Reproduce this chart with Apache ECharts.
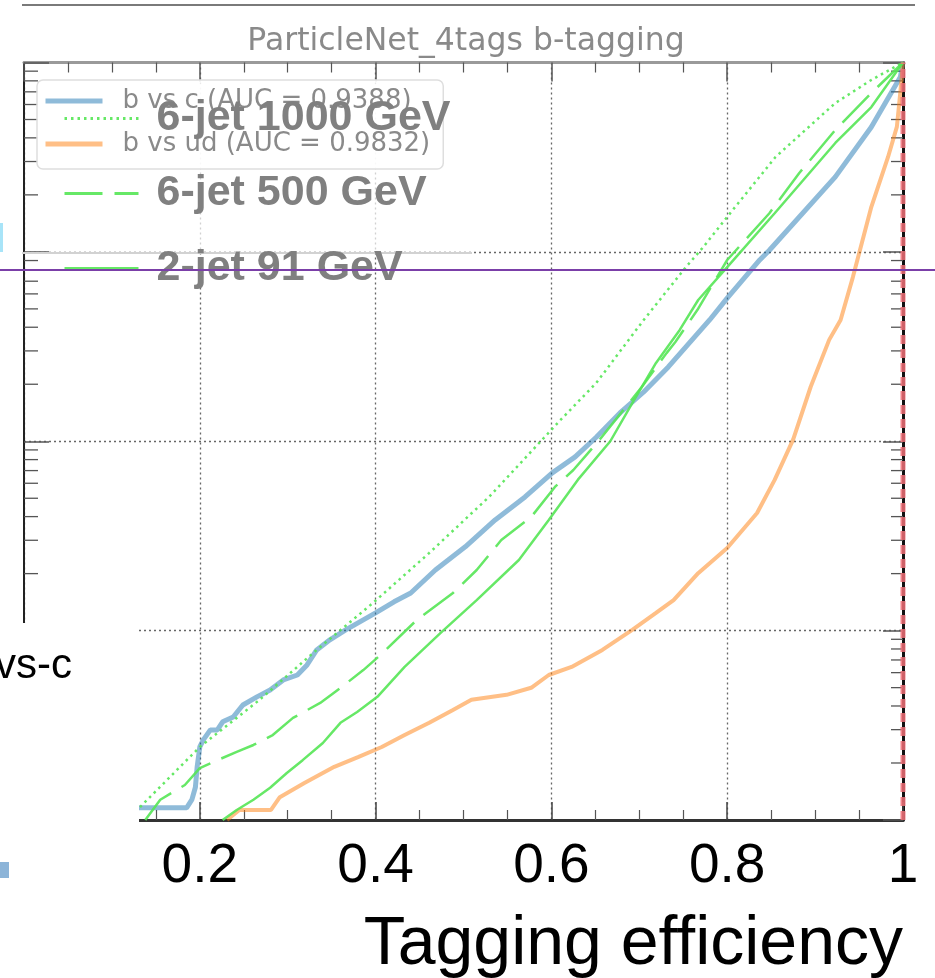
<!DOCTYPE html>
<html>
<head>
<meta charset="utf-8">
<script src="https://cdn.jsdelivr.net/npm/echarts@6/dist/echarts.min.js"></script>
<style>
html,body{margin:0;padding:0;background:#fff;}
#chart{width:935px;height:978px;}
</style>
</head>
<body>
<div id="chart"></div>
<script>
// ---- data ----
const xTickLabels = ['0.2', '0.4', '0.6', '0.8', '1'];

const bcEff = [0.08,0.132,0.185,0.191,0.195,0.197,0.200,0.204,0.212,0.220,0.226,0.238,0.249,0.265,0.280,0.295,0.311,0.322,0.333,0.348,0.366,0.400,0.421,0.440,0.468,0.502,0.536,0.570,0.601,0.627,0.651,0.678,0.705,0.733,0.760,0.780,0.800,0.837,0.848,0.923,0.964,0.997,1.0];
const bcMis = [1.16e-4,1.16e-4,1.16e-4,1.28e-4,1.49e-4,1.91e-4,2.43e-4,2.65e-4,2.99e-4,2.99e-4,3.30e-4,3.50e-4,4.05e-4,4.47e-4,4.86e-4,5.49e-4,5.83e-4,6.59e-4,7.91e-4,8.94e-4,1.01e-3,1.24e-3,1.42e-3,1.58e-3,2.09e-3,2.77e-3,3.84e-3,5.08e-3,6.81e-3,8.27e-3,1.05e-2,1.41e-2,1.82e-2,2.47e-2,3.43e-2,4.37e-2,5.7e-2,9.06e-2,0.102,0.249,0.456,0.838,1.0];

const budEff = [0.231,0.245,0.281,0.291,0.319,0.353,0.380,0.407,0.433,0.461,0.488,0.509,0.549,0.577,0.597,0.623,0.658,0.692,0.719,0.739,0.767,0.800,0.834,0.854,0.875,0.895,0.916,0.929,0.943,0.964,0.983,0.993,0.997,1.0];
const budMis = [1.0e-4,1.13e-4,1.13e-4,1.32e-4,1.57e-4,1.91e-4,2.15e-4,2.43e-4,2.81e-4,3.26e-4,3.81e-4,4.31e-4,4.58e-4,4.99e-4,5.83e-4,6.43e-4,7.91e-4,1.01e-3,1.24e-3,1.45e-3,2.01e-3,2.73e-3,4.18e-3,6.25e-3,1.02e-2,1.94e-2,3.43e-2,4.37e-2,7.36e-2,0.173,0.317,0.457,0.70,1.0];

const j1000Eff = [0.132,0.200,0.268,0.333,0.397,0.461,0.529,0.597,0.610,0.651,0.705,0.753,0.772,0.800,0.855,0.923,0.964,1.0];
const j1000Mis = [1.17e-4,2.43e-4,4.31e-4,7.91e-4,1.40e-3,2.57e-3,5.08e-3,1.11e-2,1.29e-2,2.03e-2,4.37e-2,8.31e-2,0.105,0.153,0.317,0.611,0.809,1.0];

const j500Eff = [0.138,0.155,0.170,0.183,0.200,0.220,0.242,0.261,0.283,0.306,0.337,0.360,0.386,0.408,0.447,0.488,0.515,0.543,0.577,0.604,0.625,0.655,0.703,0.731,0.741,0.766,0.800,0.848,0.882,0.923,0.964,1.0];
const j500Mis = [1.0e-4,1.28e-4,1.41e-4,1.53e-4,1.88e-4,2.07e-4,2.29e-4,2.49e-4,2.81e-4,3.46e-4,4.15e-4,4.98e-4,6.19e-4,7.62e-4,1.14e-3,1.58e-3,2.09e-3,3.01e-3,3.98e-3,5.74e-3,7.05e-3,1.02e-2,1.94e-2,2.92e-2,3.34e-2,4.93e-2,9.06e-2,0.160,0.261,0.440,0.690,1.0];

const j91Eff = [0.226,0.242,0.261,0.280,0.299,0.317,0.340,0.360,0.379,0.402,0.433,0.474,0.515,0.563,0.597,0.630,0.667,0.692,0.719,0.746,0.767,0.800,0.854,0.923,0.964,1.0];
const j91Mis = [1.0e-4,1.13e-4,1.28e-4,1.48e-4,1.77e-4,2.07e-4,2.55e-4,3.26e-4,3.72e-4,4.47e-4,6.44e-4,9.73e-4,1.45e-3,2.36e-3,3.84e-3,6.25e-3,1.0e-2,1.59e-2,2.59e-2,3.87e-2,5.57e-2,8.31e-2,0.160,0.376,0.582,1.0];

const refEff = [1.0, 1.0];
const refMis = [1.0e-4, 1.0];

// log-axis minor tick structure
const yDecades = [1e-4, 1e-3, 1e-2, 1e-1];
const yMinorMultipliers = [2, 3, 4, 5, 6, 7, 8, 9];

const names = {
  bc: 'b vs c (AUC = 0.9388)',
  bud: 'b vs ud (AUC = 0.9832)',
  j1000: '6-jet 1000 GeV',
  j500: '6-jet 500 GeV',
  j91: '2-jet 91 GeV'
};

// ---- build ----
const zip = (a, b) => a.map((v, i) => [v, b[i]]);
const yMinorTicks = [];
yDecades.forEach(d => yMinorMultipliers.forEach(m => yMinorTicks.push([0, d * m])));

const chart = echarts.init(document.getElementById('chart'), null, {renderer: 'canvas'});

const greenColor = '#55e655';

const option = {
  animation: false,
  backgroundColor: '#ffffff',
  title: {
    text: 'ParticleNet_4tags b-tagging',
    left: 461,
    textAlign: 'center',
    top: 21,
    textStyle: {fontFamily: 'DejaVu Sans', fontSize: 31.5, fontWeight: 'normal', color: '#8a8a8a'}
  },
  grid: {left: 24, right: 32, top: 62.5, bottom: 158, outerBoundsMode: 'none', containLabel: false},
  legend: [
    {
      data: [names.bc, names.bud],
      orient: 'vertical',
      left: 37, top: 80,
      padding: [8, 13, 12, 6],
      itemWidth: 57, itemHeight: 14, itemGap: 17,
      selectedMode: false,
      itemStyle: {opacity: 0},
      lineStyle: {width: 5},
      backgroundColor: 'rgba(255,255,255,0.85)',
      borderColor: '#dedede', borderWidth: 1.5, borderRadius: 6,
      textStyle: {fontFamily: 'DejaVu Sans', fontSize: 26, color: '#8a8a8a', padding: [0, 0, 0, 15]},
      z: 4
    },
    {
      data: [names.j1000, names.j500, names.j91],
      orient: 'vertical',
      left: 63, top: 97,
      padding: 0,
      itemWidth: 74, itemHeight: 14, itemGap: 32,
      selectedMode: false,
      itemStyle: {opacity: 0},
      lineStyle: {width: 3},
      textStyle: {fontFamily: 'Liberation Sans', fontSize: 43, fontWeight: 'bold', color: '#808080', padding: [0, 0, 0, 13]},
      z: 5
    }
  ],
  xAxis: [
    {
      type: 'value', position: 'bottom', min: 0, max: 1, interval: 0.2,
      axisLine: {show: true, onZero: false, lineStyle: {color: '#333', width: 3}},
      axisTick: {show: true, inside: true, length: 18, lineStyle: {color: '#444', width: 1.5}},
      minorTick: {show: true, splitNumber: 4, length: 10, lineStyle: {color: '#555', width: 1.2}},
      splitLine: {show: true, lineStyle: {color: '#666', width: 1.3, type: [2, 3]}},
      axisLabel: {
        show: true, margin: 19, color: '#000', fontSize: 55, fontFamily: 'Liberation Sans',
        formatter: v => { const s = String(Math.round(v * 10) / 10); return xTickLabels.indexOf(s) >= 0 ? s : ''; }
      },
      name: 'Tagging efficiency',
      nameLocation: 'end',
      nameGap: 0,
      nameTextStyle: {fontFamily: 'Liberation Sans', fontSize: 68, color: '#000', align: 'right', verticalAlign: 'top', padding: [91, 0, 0, 0]}
    },
    {
      type: 'value', position: 'top', min: 0, max: 1, interval: 0.2,
      axisLine: {show: true, onZero: false, lineStyle: {color: '#9a9a9a', width: 3}},
      axisTick: {show: true, inside: true, length: 19, lineStyle: {color: '#555', width: 1.5}},
      minorTick: {show: true, splitNumber: 4, length: 10, lineStyle: {color: '#555', width: 1.2}},
      splitLine: {show: false},
      axisLabel: {show: false}
    }
  ],
  yAxis: [
    {
      type: 'log', logBase: 10, min: 1e-4, max: 1, position: 'left',
      axisLine: {show: true, onZero: false, lineStyle: {color: '#222', width: 2}},
      axisTick: {show: true, inside: true, length: 25, lineStyle: {color: '#555', width: 1.5}},
      splitLine: {show: true, lineStyle: {color: '#666', width: 1.3, type: [2, 3]}},
      axisLabel: {show: false}
    },
    {
      type: 'log', logBase: 10, min: 1e-4, max: 1, position: 'right',
      axisLine: {show: true, onZero: false, lineStyle: {color: '#111', width: 3}},
      axisTick: {show: true, inside: true, length: 20, lineStyle: {color: '#555', width: 1.5}},
      splitLine: {show: false},
      axisLabel: {show: false}
    }
  ],
  series: [
    {
      name: names.bc, type: 'line', data: zip(bcEff, bcMis), symbol: 'none', showSymbol: false,
      lineStyle: {color: '#1f77b4', width: 5, opacity: 0.5}, itemStyle: {color: '#1f77b4', opacity: 0.5}, z: 2
    },
    {
      name: names.bud, type: 'line', data: zip(budEff, budMis), symbol: 'none', showSymbol: false,
      lineStyle: {color: '#ff7f0e', width: 4, opacity: 0.5}, itemStyle: {color: '#ff7f0e', opacity: 0.5}, z: 2
    },
    {
      name: names.j1000, type: 'line', data: zip(j1000Eff, j1000Mis), symbol: 'none', showSymbol: false,
      lineStyle: {color: greenColor, width: 2.5, type: [2.5, 4], opacity: 0.9}, itemStyle: {color: greenColor}, z: 3
    },
    {
      name: names.j500, type: 'line', data: zip(j500Eff, j500Mis), symbol: 'none', showSymbol: false,
      lineStyle: {color: greenColor, width: 2.5, type: [38, 12], opacity: 0.9}, itemStyle: {color: greenColor}, z: 3
    },
    {
      name: names.j91, type: 'line', data: zip(j91Eff, j91Mis), symbol: 'none', showSymbol: false,
      lineStyle: {color: greenColor, width: 2.5, opacity: 0.9}, itemStyle: {color: greenColor}, z: 3
    },
    {
      name: 'reference', type: 'line', data: zip(refEff, refMis), symbol: 'none', showSymbol: false, clip: false,
      lineStyle: {color: '#f07078', width: 5, type: [9, 5], opacity: 0.85}, z: 3
    },
    {
      name: 'minor ticks', type: 'custom', data: yMinorTicks, clip: false, silent: true, z: 1,
      renderItem: function (params, api) {
        const v = api.value(1);
        const l = api.coord([0, v]);
        const r = api.coord([1, v]);
        return {
          type: 'group',
          children: [
            {type: 'line', shape: {x1: l[0], y1: l[1], x2: l[0] + 14, y2: l[1]}, style: {stroke: '#555', lineWidth: 1.3}},
            {type: 'line', shape: {x1: r[0], y1: r[1], x2: r[0] - 12, y2: r[1]}, style: {stroke: '#555', lineWidth: 1.3}}
          ]
        };
      }
    }
  ],
  graphic: [
    {type: 'line', shape: {x1: 22, y1: 5, x2: 915, y2: 5}, style: {stroke: '#7a7a7a', lineWidth: 2}, z: 1},
    {type: 'rect', shape: {x: 48, y: 84, width: 424, height: 166}, style: {fill: 'rgba(255,255,255,0.7)'}, z: 1},
    {type: 'line', shape: {x1: 22, y1: 253, x2: 472, y2: 253}, style: {stroke: '#d2d2d2', lineWidth: 2}, z: 1},
    {type: 'rect', shape: {x: 0, y: 623, width: 139, height: 355}, style: {fill: '#ffffff'}, z: 50},
    {type: 'text', x: -5, y: 666, style: {text: 'vs-c', fontSize: 42, fontFamily: 'Liberation Sans', fill: '#000', verticalAlign: 'middle'}, z: 51},
    {type: 'rect', shape: {x: 0, y: 862, width: 9, height: 16}, style: {fill: '#8cb4d8'}, z: 51},
    {type: 'rect', shape: {x: 0, y: 223, width: 3, height: 29}, style: {fill: '#a8e4f8'}, z: 51},
    {type: 'line', shape: {x1: 0, y1: 270, x2: 935, y2: 270}, style: {stroke: '#7b3fa8', lineWidth: 2}, z: 60}
  ]
};

chart.setOption(option);
</script>
</body>
</html>
